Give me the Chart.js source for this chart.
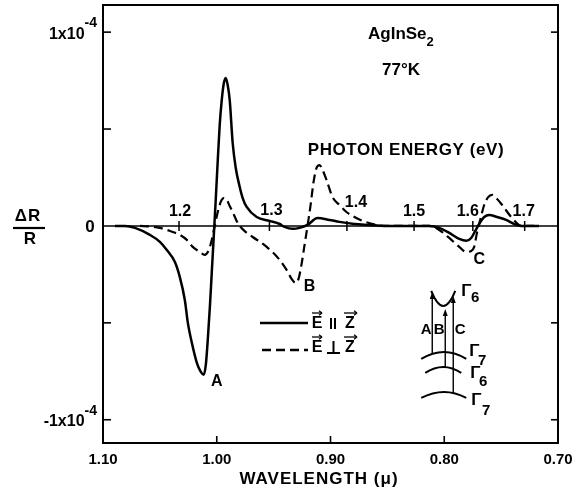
<!DOCTYPE html>
<html><head><meta charset="utf-8">
<script src="https://cdn.jsdelivr.net/npm/chart.js@4.4.1/dist/chart.umd.min.js"></script>
<style>html,body{margin:0;padding:0;background:#fff;}</style>
</head><body>
<canvas id="c" width="582" height="493"></canvas>
<script>
// ---- data (ΔR/R in units of 1e-4, wavelength in microns) ----
const parallelWl = [1.0895,1.0807,1.0719,1.0588,1.0500,1.0439,1.0368,1.0325,1.0281,1.0254,1.0219,1.0175,1.0140,1.0114,1.0096,1.0079,1.0061,1.0044,1.0026,1.0009,0.9991,0.9974,0.9956,0.9939,0.9921,0.9904,0.9886,0.9860,0.9833,0.9798,0.9772,0.9737,0.9649,0.9535,0.9447,0.9404,0.9333,0.9272,0.9202,0.9114,0.9009,0.8921,0.8789,0.8658,0.8526,0.8307,0.8132,0.8044,0.7956,0.7868,0.7807,0.7763,0.7728,0.7693,0.7649,0.7605,0.7535,0.7456,0.7386,0.7325,0.7167];
const parallelVal = [0,0,-0.010,-0.046,-0.082,-0.124,-0.186,-0.263,-0.381,-0.500,-0.603,-0.706,-0.753,-0.768,-0.716,-0.588,-0.423,-0.242,-0.050,0.134,0.340,0.521,0.649,0.732,0.763,0.727,0.649,0.428,0.299,0.201,0.144,0.098,0.046,0.026,0.010,-0.005,-0.015,-0.010,0.005,0.041,0.031,0.021,0.010,0.005,0,0,0,-0.010,-0.036,-0.067,-0.077,-0.062,-0.026,0.010,0.046,0.057,0.046,0.031,0.010,0,0];
const perpWl = [1.0675,1.0588,1.0500,1.0412,1.0325,1.0263,1.0211,1.0149,1.0105,1.0070,1.0044,1.0018,0.9991,0.9965,0.9939,0.9912,0.9886,0.9860,0.9825,0.9798,0.9746,0.9684,0.9561,0.9447,0.9386,0.9342,0.9307,0.9281,0.9254,0.9228,0.9202,0.9175,0.9149,0.9123,0.9096,0.9070,0.9035,0.8982,0.8921,0.8860,0.8789,0.8719,0.8596,0.8500,0.8132,0.8044,0.7956,0.7868,0.7807,0.7763,0.7737,0.7711,0.7684,0.7649,0.7614,0.7579,0.7535,0.7491,0.7404,0.7316,0.7211];
const perpVal = [0,-0.003,-0.010,-0.026,-0.046,-0.072,-0.108,-0.134,-0.149,-0.124,-0.072,0,0.072,0.124,0.144,0.134,0.103,0.072,0.026,0,-0.031,-0.057,-0.108,-0.175,-0.227,-0.273,-0.294,-0.273,-0.196,-0.098,0,0.108,0.227,0.299,0.314,0.289,0.237,0.149,0.108,0.072,0.046,0.026,0.005,0,0,-0.021,-0.062,-0.108,-0.134,-0.129,-0.108,-0.031,0.031,0.108,0.149,0.160,0.139,0.108,0.041,0,0];

const xTickValues = [0.70, 0.80, 0.90, 1.00, 1.10];
const yTickValues = [-1, -0.5, 0.5, 1];
const yLabelValues = [1, 0, -1];
const energyTicks = [1.2, 1.3, 1.4, 1.5, 1.6, 1.7];
const energyLabels = ['1.2', '1.3', '1.4', '1.5', '1.6', '1.7'];
const HC = 1.2398; // eV·µm
const peakLabels = [{t:'A', x:1.0114, y:-0.768}, {t:'B', x:0.9307, y:-0.294}, {t:'C', x:0.7807, y:-0.134}];

const FONT = '"Liberation Sans", Arial, sans-serif';

function txt(ctx, s, x, y, size, align, base, spacing) {
  ctx.font = 'bold ' + size + 'px ' + FONT;
  ctx.textAlign = align || 'center';
  ctx.textBaseline = base || 'middle';
  try { ctx.letterSpacing = (spacing || 0) + 'px'; } catch (e) {}
  ctx.fillText(s, x, y);
  try { ctx.letterSpacing = '0px'; } catch (e) {}
}
function line(ctx, x1, y1, x2, y2) { ctx.beginPath(); ctx.moveTo(x1, y1); ctx.lineTo(x2, y2); ctx.stroke(); }
function vecArrow(ctx, x1, x2, y) {
  ctx.lineWidth = 1.3;
  line(ctx, x1, y, x2, y);
  line(ctx, x2, y, x2 - 3, y - 2.2);
  line(ctx, x2, y, x2 - 3, y + 2.2);
}
function upArrow(ctx, x, yFrom, yTo) {
  ctx.lineWidth = 1.4;
  line(ctx, x, yFrom, x, yTo + 5);
  ctx.beginPath(); ctx.moveTo(x, yTo); ctx.lineTo(x - 2.5, yTo + 7); ctx.lineTo(x + 2.5, yTo + 7); ctx.closePath(); ctx.fill();
}

const deco = {
  id: 'deco',
  beforeDatasetsDraw(chart) {
    const {ctx, chartArea: ca, scales: {x: xs, y: ys}} = chart;
    const y0 = ys.getPixelForValue(0);
    ctx.save();
    ctx.strokeStyle = '#000'; ctx.fillStyle = '#000'; ctx.lineWidth = 1.6;
    line(ctx, ca.left, y0, ca.right, y0);
    const offs = [[1,-14],[2,-15],[9,-23],[0,-14],[-5,-14],[-1,-14]];
    energyTicks.forEach((E, i) => {
      const px = xs.getPixelForValue(HC / E);
      ctx.lineWidth = 1.5;
      line(ctx, px, y0 - 5, px, y0 + 5);
      txt(ctx, energyLabels[i], px + offs[i][0], y0 + offs[i][1], 16);
    });
    ctx.restore();
  },
  afterDraw(chart) {
    const {ctx, chartArea: ca, scales: {x: xs, y: ys}} = chart;
    ctx.save();
    ctx.strokeStyle = '#000'; ctx.fillStyle = '#000';
    // frame
    ctx.lineWidth = 2;
    ctx.strokeRect(ca.left, ca.top, ca.right - ca.left, ca.bottom - ca.top);
    // inward ticks
    ctx.lineWidth = 1.6;
    yTickValues.forEach(v => {
      const py = ys.getPixelForValue(v);
      line(ctx, ca.left, py, ca.left + 8, py);
      line(ctx, ca.right - 7, py, ca.right, py);
    });
    xTickValues.forEach(v => {
      const px = xs.getPixelForValue(v);
      line(ctx, px, ca.bottom, px, ca.bottom - 7);
    });
    // y labels
    yLabelValues.forEach(v => {
      const py = ys.getPixelForValue(v);
      if (v === 0) { txt(ctx, '0', ca.left - 13, py + 1, 17); return; }
      ctx.font = 'bold 14px ' + FONT;
      const supW = ctx.measureText('-4').width;
      const right = ca.left - 6;
      txt(ctx, '-4', right, py - 9, 14, 'right');
      txt(ctx, (v < 0 ? '-' : '') + '1x10', right - supW, py + 2, 16, 'right');
    });
    // ΔR / R
    txt(ctx, 'ΔR', 28, 216, 17, 'center', 'middle', 1);
    ctx.lineWidth = 2.2; line(ctx, 13, 228, 45, 228);
    txt(ctx, 'R', 30, 239, 17);
    // axis title
    txt(ctx, 'WAVELENGTH (μ)', 319, 479, 17, 'center', 'middle', 1);
    // headings
    txt(ctx, 'AgInSe', 368, 39, 17, 'left', 'alphabetic');
    ctx.font = 'bold 17px ' + FONT;
    const w = ctx.measureText('AgInSe').width;
    txt(ctx, '2', 368 + w, 46, 13, 'left', 'alphabetic');
    txt(ctx, '77°K', 382, 75, 17, 'left', 'alphabetic');
    txt(ctx, 'PHOTON ENERGY (eV)', 406, 150, 17, 'center', 'middle', 0.6);
    // peak labels
    const pOff = {A:[13,7], B:[14,4], C:[13,8]};
    peakLabels.forEach(p => {
      txt(ctx, p.t, xs.getPixelForValue(p.x) + pOff[p.t][0], ys.getPixelForValue(p.y) + pOff[p.t][1], 16);
    });
    // legend
    ctx.lineWidth = 2.5; ctx.setLineDash([]);
    line(ctx, 260, 323, 308, 323);
    ctx.setLineDash([9, 5]);
    line(ctx, 262, 350, 308, 350);
    ctx.setLineDash([]);
    txt(ctx, 'E', 317, 324, 16); txt(ctx, 'Z', 350, 324, 16);
    ctx.lineWidth = 2; line(ctx, 331, 318, 331, 329); line(ctx, 335, 318, 335, 329);
    vecArrow(ctx, 312, 322, 313); vecArrow(ctx, 344, 357, 313);
    txt(ctx, 'E', 317, 348, 16); txt(ctx, 'Z', 350, 348, 16);
    ctx.lineWidth = 2; line(ctx, 333.5, 341, 333.5, 353); line(ctx, 327, 353, 340, 353);
    vecArrow(ctx, 312, 322, 337); vecArrow(ctx, 344, 357, 337);
    // band diagram inset, anchored at (0.80 µm, 0)
    const ax = xs.getPixelForValue(0.80), ay = ys.getPixelForValue(0);
    ctx.lineWidth = 2;
    ctx.beginPath(); ctx.moveTo(ax - 13, ay + 65); ctx.quadraticCurveTo(ax - 1, ay + 95, ax + 11, ay + 65); ctx.stroke();
    ctx.beginPath(); ctx.moveTo(ax - 23, ay + 133); ctx.quadraticCurveTo(ax, ay + 119, ax + 22, ay + 133); ctx.stroke();
    ctx.beginPath(); ctx.moveTo(ax - 19, ay + 147); ctx.quadraticCurveTo(ax - 1, ay + 135, ax + 17, ay + 147); ctx.stroke();
    ctx.beginPath(); ctx.moveTo(ax - 23, ay + 172); ctx.quadraticCurveTo(ax, ay + 160, ax + 22, ay + 172); ctx.stroke();
    upArrow(ctx, ax - 12, ay + 128, ay + 66);
    upArrow(ctx, ax + 1, ay + 141, ay + 83);
    upArrow(ctx, ax + 9, ay + 167, ay + 70);
    txt(ctx, 'A', ax - 18, ay + 104, 15); txt(ctx, 'B', ax - 5, ay + 104, 15); txt(ctx, 'C', ax + 16, ay + 104, 15);
    const gam = [[22,65,'6',31,72],[30,125,'7',38,135],[31,147,'6',39,156],[32,174,'7',42,185]];
    gam.forEach(g => { txt(ctx, 'Γ', ax + g[0], ay + g[1], 17); txt(ctx, g[2], ax + g[3], ay + g[4], 15); });
    ctx.restore();
  }
};

new Chart(document.getElementById('c'), {
  type: 'line',
  data: {
    datasets: [
      { label: 'E ∥ Z', data: parallelWl.map((x, i) => ({x, y: parallelVal[i]})),
        borderColor: '#000', borderWidth: 2.5, pointRadius: 0, fill: false, cubicInterpolationMode: 'monotone' },
      { label: 'E ⊥ Z', data: perpWl.map((x, i) => ({x, y: perpVal[i]})),
        borderColor: '#000', borderWidth: 2.2, borderDash: [9, 5], pointRadius: 0, fill: false, cubicInterpolationMode: 'monotone' }
    ]
  },
  options: {
    responsive: false, animation: false, devicePixelRatio: 1,
    layout: { padding: { left: 103, right: 24, top: 5, bottom: 0 } },
    plugins: { legend: { display: false }, tooltip: { enabled: false } },
    scales: {
      x: { type: 'linear', reverse: true, min: 0.70, max: 1.10,
        afterBuildTicks: s => { s.ticks = xTickValues.map(v => ({value: v})); },
        afterFit: s => { s.height = 50; },
        ticks: { callback: v => Number(v).toFixed(2), color: '#000', padding: 8, maxRotation: 0, autoSkip: false,
          font: { family: FONT, size: 15, weight: 'bold' } },
        grid: { display: false, drawTicks: false }, border: { display: false } },
      y: { type: 'linear', min: -1.12, max: 1.14, display: false }
    }
  },
  plugins: [deco]
});
</script>
</body></html>
